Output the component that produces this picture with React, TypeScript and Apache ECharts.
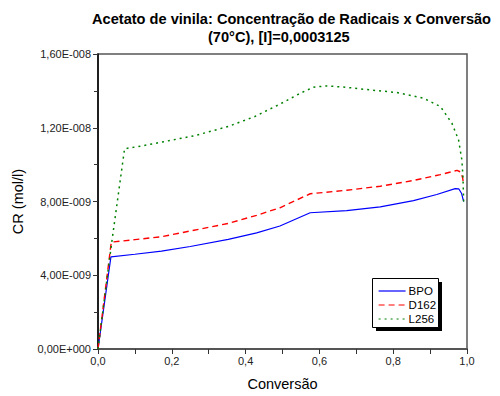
import React, { useEffect, useRef } from "react";
import * as echarts from "echarts";

const seriesNames = ["BPO", "D162", "L256"];

const bpoX = [0, 0.035, 0.1, 0.172, 0.25, 0.353, 0.43, 0.493, 0.575, 0.674, 0.765, 0.855, 0.918, 0.968, 0.978, 0.985, 0.991];
const bpoY = [0, 5.0e-9, 5.14e-9, 5.31e-9, 5.56e-9, 5.95e-9, 6.3e-9, 6.67e-9, 7.39e-9, 7.51e-9, 7.71e-9, 8.05e-9, 8.38e-9, 8.7e-9, 8.68e-9, 8.45e-9, 8.0e-9];

const d162X = [0, 0.036, 0.1, 0.172, 0.25, 0.353, 0.43, 0.493, 0.575, 0.674, 0.765, 0.855, 0.928, 0.973, 0.983, 0.988, 0.991];
const d162Y = [0, 5.8e-9, 5.93e-9, 6.09e-9, 6.4e-9, 6.81e-9, 7.25e-9, 7.66e-9, 8.42e-9, 8.61e-9, 8.83e-9, 9.14e-9, 9.46e-9, 9.69e-9, 9.6e-9, 9.3e-9, 8.9e-9];

const l256X = [0, 0.036, 0.072, 0.12, 0.172, 0.262, 0.353, 0.425, 0.493, 0.548, 0.584, 0.62, 0.67, 0.719, 0.81, 0.882, 0.928, 0.959, 0.977, 0.986, 0.989, 0.991];
const l256Y = [0, 5.6e-9, 10.86e-9, 11.02e-9, 11.22e-9, 11.57e-9, 12.07e-9, 12.61e-9, 13.28e-9, 13.87e-9, 14.2e-9, 14.27e-9, 14.2e-9, 14.09e-9, 13.91e-9, 13.6e-9, 13.15e-9, 12.25e-9, 11.35e-9, 10.27e-9, 9.37e-9, 7.93e-9];

const xTicks = [0, 0.2, 0.4, 0.6, 0.8, 1.0];
const yTickLabels = ["0,00E+000", "4,00E-009", "8,00E-009", "1,20E-008", "1,60E-008"];

const zip = (xs: number[], ys: number[]) => xs.map((x, i) => [x, ys[i]]);

export default function App() {
  const ref = useRef<HTMLDivElement>(null);
  useEffect(() => {
    if (!ref.current) return;
    const chart = echarts.init(ref.current, undefined, { renderer: "svg" });
    const font = "Liberation Sans, Arial, sans-serif";
    chart.setOption({
      animation: false,
      backgroundColor: "#ffffff",
      textStyle: { fontFamily: font },
      grid: {
        left: 98,
        right: 33,
        top: 54,
        bottom: 46,
        show: true,
        borderColor: "#555555",
        borderWidth: 1.5,
      },
      graphic: [
        {
          type: "text",
          left: 92,
          top: 11,
          style: {
            text: "Acetato de vinila: Concentração de Radicais x Conversão",
            fontFamily: font,
            fontSize: 14.6,
            fontWeight: "bold",
            fill: "#000",
          },
        },
        {
          type: "text",
          left: 208,
          top: 29,
          style: {
            text: "(70°C), [I]=0,0003125",
            fontFamily: font,
            fontSize: 14.6,
            fontWeight: "bold",
            fill: "#000",
          },
        },
        {
          type: "rect",
          left: 376,
          top: 282,
          shape: { width: 66, height: 49 },
          style: { fill: "#000" },
          z: 90,
        },
        {
          type: "rect",
          left: 372,
          top: 278,
          shape: { width: 66, height: 49 },
          style: { fill: "#fff", stroke: "#000", lineWidth: 1 },
          z: 91,
        },
      ],
      legend: {
        data: seriesNames,
        orient: "vertical",
        left: 378,
        top: 285,
        padding: 0,
        itemGap: 2,
        itemWidth: 27,
        itemHeight: 10,
        z: 100,
        itemStyle: { opacity: 0 },
        lineStyle: { width: 1.2 },
        textStyle: { fontFamily: font, fontSize: 11.5, color: "#000", padding: [0, 0, 0, -2] },
      },
      xAxis: {
        type: "value",
        min: 0,
        max: 1,
        interval: 0.2,
        name: "Conversão",
        nameLocation: "middle",
        nameGap: 27,
        nameTextStyle: { fontFamily: font, fontSize: 14.5, color: "#000" },
        axisLine: { show: true, lineStyle: { color: "#555555", width: 2 } },
        axisTick: { show: true, inside: false, length: 5, lineStyle: { color: "#333" } },
        minorTick: { show: true, splitNumber: 2, length: 5, lineStyle: { color: "#333" } },
        splitLine: { show: false },
        axisLabel: {
          fontFamily: font,
          fontSize: 11,
          color: "#222",
          margin: 6,
          formatter: (v: number) => {
            const t = xTicks.find((x) => Math.abs(x - v) < 1e-6);
            return t === undefined ? "" : t.toFixed(1).replace(".", ",");
          },
        },
      },
      yAxis: {
        type: "value",
        min: 0,
        max: 1.6e-8,
        interval: 4e-9,
        name: "CR (mol/l)",
        nameLocation: "middle",
        nameGap: 73,
        nameRotate: 90,
        nameTextStyle: { fontFamily: font, fontSize: 14.5, color: "#000" },
        axisLine: { show: true, lineStyle: { color: "#000", width: 1.5 } },
        axisTick: { show: true, inside: false, length: 5, lineStyle: { color: "#333" } },
        minorTick: { show: true, splitNumber: 2, length: 4, lineStyle: { color: "#333" } },
        splitLine: { show: false },
        axisLabel: {
          fontFamily: font,
          fontSize: 11,
          color: "#222",
          margin: 7,
          formatter: (v: number) => {
            const idx = Math.round(v / 4e-9);
            return yTickLabels[idx] ?? "";
          },
        },
      },
      series: [
        {
          name: "BPO",
          type: "line",
          data: zip(bpoX, bpoY),
          symbol: "none",
          lineStyle: { color: "#0000ff", width: 1.2, type: "solid" },
          itemStyle: { color: "#0000ff" },
          z: 3,
        },
        {
          name: "D162",
          type: "line",
          data: zip(d162X, d162Y),
          symbol: "none",
          lineStyle: { color: "#ff0000", width: 1.4, type: [6, 4] },
          itemStyle: { color: "#ff0000" },
          z: 4,
        },
        {
          name: "L256",
          type: "line",
          data: zip(l256X, l256Y),
          symbol: "none",
          lineStyle: { color: "#008000", width: 1.5, type: [2, 4] },
          itemStyle: { color: "#008000" },
          z: 5,
        },
      ],
    });
    return () => chart.dispose();
  }, []);
  return <div ref={ref} style={{ width: 500, height: 396, position: "absolute", left: 0, top: 0 }} />;
}
